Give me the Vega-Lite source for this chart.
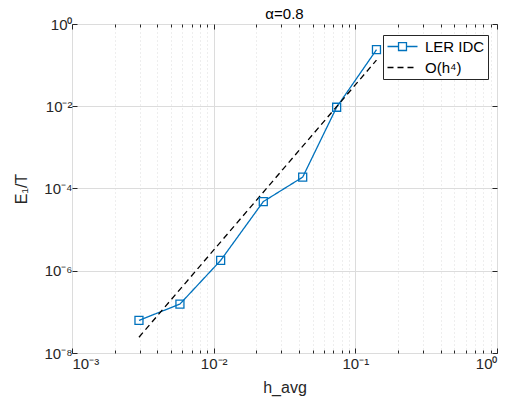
{
  "$schema": "https://vega.github.io/schema/vega-lite/v6.json",
  "width": 425,
  "height": 329,
  "autosize": "none",
  "padding": {"left": 72, "top": 24, "right": 10, "bottom": 51},
  "background": "white",
  "title": {"text": "α=0.8", "fontSize": 15, "fontWeight": "normal", "font": "Liberation Sans", "color": "#000000", "offset": -5},
  "config": {
    "view": {"stroke": "#262626", "strokeWidth": 1},
    "axis": {"labelFont": "Liberation Sans", "titleFont": "Liberation Sans", "labelColor": "#262626", "titleColor": "#262626", "labelFontSize": 15, "titleFontSize": 16, "titleFontWeight": "normal", "domain": false, "tickColor": "#262626", "tickWidth": 1}
  },
  "data": {"values": [
    {"series": "LER IDC", "h": 0.00297, "e": 6.2e-8},
    {"series": "LER IDC", "h": 0.00578, "e": 1.55e-7},
    {"series": "LER IDC", "h": 0.0112, "e": 1.78e-6},
    {"series": "LER IDC", "h": 0.0224, "e": 4.8e-5},
    {"series": "LER IDC", "h": 0.0425, "e": 1.89e-4},
    {"series": "LER IDC", "h": 0.0738, "e": 9.46e-3},
    {"series": "LER IDC", "h": 0.141, "e": 0.237},
    {"series": "O(h⁴)", "h": 0.00297, "e": 2.42e-8},
    {"series": "O(h⁴)", "h": 0.141, "e": 0.132}
  ]},
  "layer": [
    {
      "mark": {"type": "line", "strokeWidth": 1.3},
      "encoding": {
        "x": {"field": "h", "type": "quantitative", "scale": {"type": "log", "domain": [0.001, 1]},
          "axis": {"orient": "bottom", "title": "h_avg", "titlePadding": 8,
            "values": [0.001,0.002,0.003,0.004,0.005,0.006,0.007,0.008,0.009,0.01,0.02,0.03,0.04,0.05,0.06,0.07,0.08,0.09,0.1,0.2,0.3,0.4,0.5,0.6,0.7,0.8,0.9,1],
            "labelExpr": "datum.value==0.001?'10⁻³':datum.value==0.01?'10⁻²':datum.value==0.1?'10⁻¹':datum.value==1?'10⁰':''",
            "labelPadding": 8,
            "grid": true,
            "gridColor": "#dcdcdc",
            "gridWidth": 1,
            "gridDash": {"condition": {"test": "indexof([0.001,0.01,0.1,1],datum.value)>=0", "value": []}, "value": [1, 3]},
            "tickSize": {"condition": {"test": "indexof([0.001,0.01,0.1,1],datum.value)>=0", "value": -5}, "value": -3}
          }},
        "y": {"field": "e", "type": "quantitative", "scale": {"type": "log", "domain": [1e-8, 1]},
          "axis": {"orient": "left", "title": "E₁/T", "titlePadding": 14,
            "values": [1e-8, 1e-6, 1e-4, 1e-2, 1],
            "labelExpr": "datum.value==1?'10⁰':datum.value==0.01?'10⁻²':datum.value==0.0001?'10⁻⁴':datum.value==0.000001?'10⁻⁶':'10⁻⁸'",
            "labelPadding": 5,
            "grid": true, "gridColor": "#dcdcdc", "gridWidth": 1,
            "tickSize": -5
          }},
        "color": {"field": "series", "type": "nominal", "scale": {"domain": ["LER IDC", "O(h⁴)"], "range": ["#0072BD", "#000000"]},
          "legend": {"title": null, "orient": "none", "legendX": 311, "legendY": 11, "fillColor": "white", "strokeColor": "#262626", "padding": 3, "rowPadding": 4, "symbolSize": 225, "symbolOffset": 8, "labelOffset": 14, "labelFont": "Liberation Sans", "labelFontSize": 15, "labelColor": "#000000", "symbolStrokeWidth": 1.3,
            "encode": {"symbols": {"update": {"shape": {"signal": "datum.value=='LER IDC' ? 'M-2,0H-0.53M0.53,0H2M-0.53,-0.53H0.53V0.53H-0.53Z' : 'M-2,0H2'"}, "fill": {"value": "transparent"}}}}}},
        "strokeDash": {"field": "series", "type": "nominal", "scale": {"domain": ["LER IDC", "O(h⁴)"], "range": [[1, 0], [6, 4]]},
          "legend": {"title": null, "orient": "none", "legendX": 311, "legendY": 11, "fillColor": "white", "strokeColor": "#262626", "padding": 3, "rowPadding": 4, "symbolSize": 225, "symbolOffset": 8, "labelOffset": 14, "labelFont": "Liberation Sans", "labelFontSize": 15, "labelColor": "#000000", "symbolStrokeWidth": 1.3,
            "encode": {"symbols": {"update": {"shape": {"signal": "datum.value=='LER IDC' ? 'M-2,0H-0.53M0.53,0H2M-0.53,-0.53H0.53V0.53H-0.53Z' : 'M-2,0H2'"}, "fill": {"value": "transparent"}}}}}}
      }
    },
    {
      "transform": [{"filter": "datum.series=='LER IDC'"}],
      "mark": {"type": "point", "shape": "square", "filled": false, "size": 64, "strokeWidth": 1.3, "color": "#0072BD", "opacity": 1},
      "encoding": {
        "x": {"field": "h", "type": "quantitative",
          "axis": {"orient": "top", "title": null, "labels": false, "grid": false,
            "values": [0.001,0.002,0.003,0.004,0.005,0.006,0.007,0.008,0.009,0.01,0.02,0.03,0.04,0.05,0.06,0.07,0.08,0.09,0.1,0.2,0.3,0.4,0.5,0.6,0.7,0.8,0.9,1],
            "tickSize": {"condition": {"test": "indexof([0.001,0.01,0.1,1],datum.value)>=0", "value": -5}, "value": -3}}},
        "y": {"field": "e", "type": "quantitative",
          "axis": {"orient": "right", "title": null, "labels": false, "grid": false, "values": [1e-8, 1e-6, 1e-4, 1e-2, 1], "tickSize": -5}}
      }
    }
  ],
  "resolve": {"axis": {"x": "independent", "y": "independent"}}
}
